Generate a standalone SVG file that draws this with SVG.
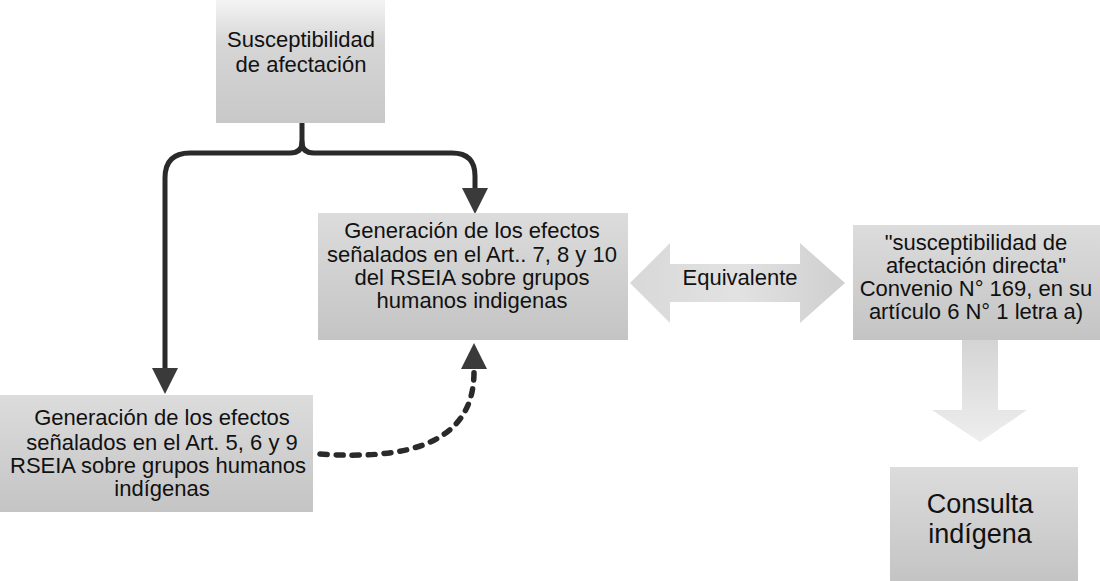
<svg xmlns="http://www.w3.org/2000/svg" width="1100" height="581" viewBox="0 0 1100 581">
  <style>
    .t { font-family: "Liberation Sans", Arial, sans-serif; font-size: 22px; fill: #111; text-anchor: middle; }
    .big { font-size: 27px; }
    .box { fill: url(#grey); }
    .link { fill: none; stroke: #2a2a2a; stroke-width: 5; stroke-linecap: round; stroke-linejoin: round; }
    .dash { fill: none; stroke: #2a2a2a; stroke-width: 5.5; stroke-linecap: round; stroke-dasharray: 7 9; }
    .head { fill: #3a3a3a; }
    .fat { fill: url(#greyH); }
  </style>
  <defs>
    <linearGradient id="grey" x1="0" y1="0" x2="0" y2="1">
      <stop offset="0" stop-color="#dcdcdc"/>
      <stop offset="1" stop-color="#c4c4c4"/>
    </linearGradient>
    <linearGradient id="greyTop" x1="0" y1="0" x2="0" y2="1">
      <stop offset="0" stop-color="#f4f4f4"/>
      <stop offset="0.35" stop-color="#d6d6d6"/>
      <stop offset="1" stop-color="#c8c8c8"/>
    </linearGradient>
    <linearGradient id="greyH" x1="0" y1="0" x2="1" y2="0">
      <stop offset="0" stop-color="#d8d8d8"/>
      <stop offset="0.5" stop-color="#e2e2e2"/>
      <stop offset="1" stop-color="#cfcfcf"/>
    </linearGradient>
    <linearGradient id="greyV" x1="0" y1="0" x2="0" y2="1">
      <stop offset="0" stop-color="#d4d4d4"/>
      <stop offset="1" stop-color="#eeeeee"/>
    </linearGradient>
  </defs>
  <rect width="1100" height="581" fill="#ffffff"/>

  <g id="connectors">
    <path class="link" d="M302,123 V142 Q302,153 290,153 H190 Q165,153 165,178 V370"/>
    <polygon class="head" points="152,368 178,368 165,394"/>
    <path class="link" d="M302,142 Q302,153 314,153 H452 Q475,153 475,176 V190"/>
    <polygon class="head" points="462,188 488,188 475,214"/>
    <path class="dash" d="M320,454 C405,460 474,445 474,372"/>
    <polygon class="head" points="461,369 487,369 474,343"/>
    <polygon id="equiv-arrow" class="fat" points="630,283 670,243 670,264 800,264 800,243 845,283 800,323 800,302 670,302 670,323"/>
    <polygon id="down-arrow" fill="url(#greyV)" points="962,340 998,340 998,410 1027,410 980,442 932,410 962,410"/>
  </g>

  <g id="n-susceptibilidad">
    <rect x="216" y="0" width="169" height="123" fill="url(#greyTop)"/>
    <text class="t" x="301" y="47">Susceptibilidad</text>
    <text class="t" x="301" y="72">de afectación</text>
  </g>

  <g id="n-art7810">
    <rect class="box" x="318" y="213" width="310" height="127"/>
    <text class="t" x="472" y="238">Generación de los efectos</text>
    <text class="t" x="472" y="262">señalados en el Art.. 7, 8 y 10</text>
    <text class="t" x="472" y="285">del RSEIA sobre grupos</text>
    <text class="t" x="472" y="308">humanos indigenas</text>
  </g>

  <g id="n-art569">
    <rect class="box" x="0" y="395" width="313" height="117"/>
    <text class="t" x="162" y="425">Generación de los efectos</text>
    <text class="t" x="162" y="450">señalados en el Art. 5, 6 y 9</text>
    <text class="t" x="158" y="473">RSEIA sobre grupos humanos</text>
    <text class="t" x="162" y="496">indígenas</text>
  </g>

  <g id="n-equivalente">
    <text class="t" x="740" y="285">Equivalente</text>
  </g>

  <g id="n-convenio">
    <rect class="box" x="853" y="225" width="247" height="115"/>
    <text class="t" x="976" y="250">"susceptibilidad de</text>
    <text class="t" x="976" y="273">afectación directa"</text>
    <text class="t" x="976" y="296">Convenio N° 169, en su</text>
    <text class="t" x="976" y="319">artículo 6 N° 1 letra a)</text>
  </g>

  <g id="n-consulta">
    <rect class="box" x="890" y="467" width="188" height="114"/>
    <text class="t big" x="980" y="513">Consulta</text>
    <text class="t big" x="980" y="543">indígena</text>
  </g>
</svg>
